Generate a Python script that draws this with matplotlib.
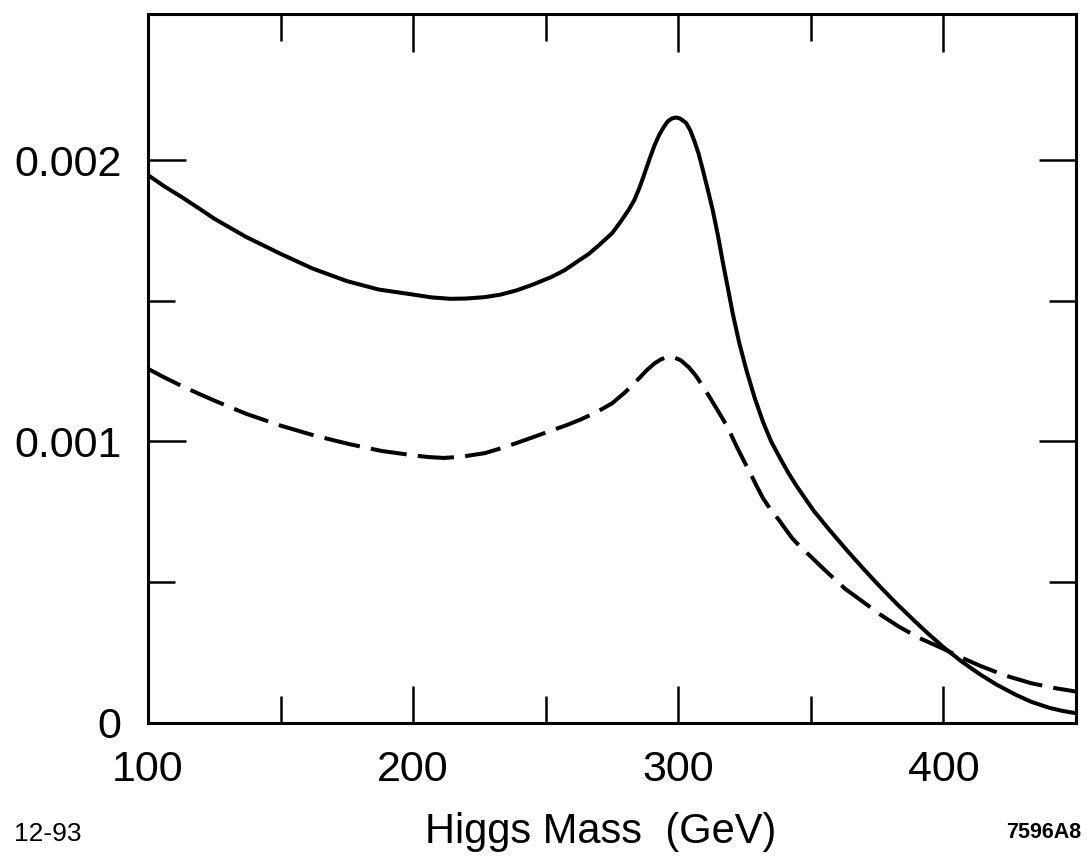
import matplotlib
matplotlib.use("Agg")
from matplotlib import pyplot as plt
from matplotlib.ticker import FixedLocator
import numpy as np

# values (y in units of 1e-3)
mass_solid = [100, 106, 112.7, 119, 125, 137, 150, 162, 175, 187, 200, 207, 214, 220, 227,
              233, 239, 245, 252, 257, 262, 266, 270, 275, 278, 281.4, 283.5, 285.2, 287,
              289, 291, 292.8, 294.5, 296, 297.5, 299.1, 300.7, 302.9, 304.5, 306, 307.6,
              309.2, 311, 313, 315, 316.8, 318.7, 320.6, 323, 325.7, 328.8, 332, 335,
              338.4, 341.5, 344.7, 348, 351, 357, 364, 370, 376, 382, 389, 394, 400, 407,
              414, 420, 427, 433, 440, 445, 450]
solid = [1.947, 1.908, 1.869, 1.830, 1.792, 1.727, 1.667, 1.615, 1.570, 1.540, 1.522,
         1.512, 1.507, 1.508, 1.513, 1.522, 1.537, 1.557, 1.584, 1.608, 1.640, 1.665,
         1.697, 1.740, 1.778, 1.825, 1.860, 1.898, 1.945, 2.0, 2.052, 2.09, 2.118, 2.138,
         2.148, 2.152, 2.148, 2.133, 2.107, 2.07, 2.025, 1.968, 1.90, 1.822, 1.73, 1.637,
         1.545, 1.452, 1.35, 1.253, 1.155, 1.068, 1.0, 0.94, 0.888, 0.84, 0.795, 0.754,
         0.685, 0.608, 0.545, 0.484, 0.426, 0.362, 0.318, 0.268, 0.216, 0.170, 0.135,
         0.100, 0.074, 0.052, 0.041, 0.033]

mass_dashed = [100, 106, 112.7, 119, 125, 137, 150, 163, 176, 188, 201, 206, 211.5, 218,
               227, 233, 239, 245, 252, 258, 263, 269, 275, 280, 285, 288, 291, 293.5, 296,
               298.5, 301, 304, 306.5, 309, 311, 313, 315.5, 318, 320, 322, 324.5, 327,
               329.5, 332, 335, 338, 340.5, 343, 346.5, 350, 353.5, 357, 363, 370, 376,
               383, 391, 400, 407, 414, 423, 433, 441, 450]
dashed = [1.258, 1.228, 1.197, 1.170, 1.145, 1.098, 1.056, 1.020, 0.99, 0.966, 0.949,
          0.944, 0.941, 0.945, 0.958, 0.975, 0.994, 1.014, 1.038, 1.058, 1.077, 1.103,
          1.135, 1.175, 1.222, 1.252, 1.277, 1.292, 1.300, 1.298, 1.288, 1.263, 1.235,
          1.20, 1.170, 1.139, 1.100, 1.06, 1.022, 0.982, 0.935, 0.89, 0.842, 0.797, 0.755,
          0.72, 0.687, 0.655, 0.62, 0.59, 0.558, 0.527, 0.475, 0.427, 0.385, 0.342, 0.300,
          0.262, 0.230, 0.201, 0.168, 0.14, 0.124, 0.11]

xticks = [100, 200, 300, 400]
xticklabels = ['100', '200', '300', '400']
xminor = [150, 250, 350]
yticks = [0, 0.001, 0.002]
yticklabels = ['0', '0.001', '0.002']
yminor = [0.0005, 0.0015]

plt.rcParams['font.family'] = ['Liberation Sans', 'DejaVu Sans']

fig = plt.figure(figsize=(10.87, 8.66), dpi=100)
ax = fig.add_axes([148/1087, 1 - 722.5/866, (1076 - 148)/1087, (722.5 - 14)/866])

ax.plot(mass_solid, np.array(solid)*1e-3, color='black', lw=2.9,
        solid_capstyle='round', solid_joinstyle='round')
ax.plot(mass_dashed, np.array(dashed)*1e-3, color='black', lw=2.9, dashes=(9, 2.8))

ax.set_xlim(100, 450)
ax.set_ylim(0, 0.00252)

ax.xaxis.set_major_locator(FixedLocator(xticks))
ax.xaxis.set_minor_locator(FixedLocator(xminor))
ax.yaxis.set_major_locator(FixedLocator(yticks))
ax.yaxis.set_minor_locator(FixedLocator(yminor))
ax.set_xticklabels(xticklabels)
ax.set_yticklabels(yticklabels)

ax.tick_params(which='both', direction='in', top=True, right=True, labelsize=31, width=1.8)
ax.tick_params(which='major', length=27)
ax.tick_params(which='minor', length=19.5)
ax.tick_params(axis='x', which='major', pad=20)
ax.tick_params(axis='y', which='major', pad=19)
for s in ax.spines.values():
    s.set_linewidth(2.2)

fig.text(601/1087, 1 - 832/866, 'Higgs Mass  (GeV)', fontsize=30, ha='center', va='center')
fig.text(14/1087, 1 - 834/866, '12-93', fontsize=19, ha='left', va='center')
fig.text(1081/1087, 1 - 832/866, '7596A8', fontsize=15.5, fontweight='bold', ha='right', va='center')

fig.savefig('out.png', dpi=100)
